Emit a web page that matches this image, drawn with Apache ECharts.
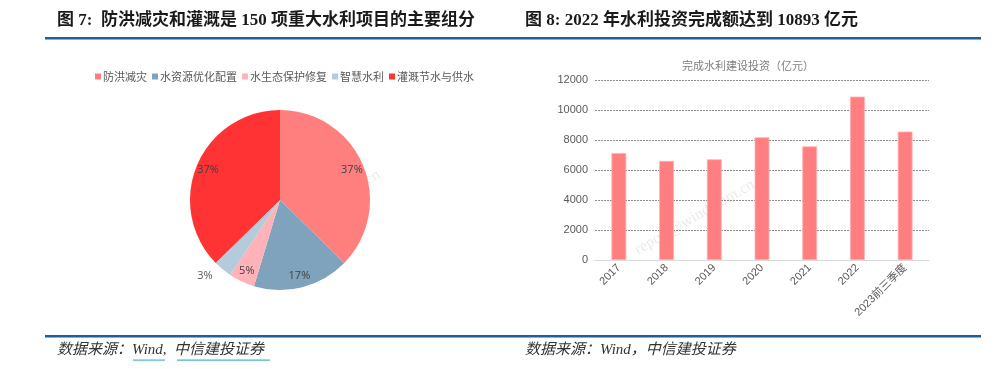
<!DOCTYPE html>
<html><head><meta charset="utf-8">
<script src="https://cdn.jsdelivr.net/npm/echarts@6/dist/echarts.min.js"></script>
<style>html,body{margin:0;padding:0;background:#fff}#c{width:1000px;height:369px}</style>
</head><body><div id="c"></div>
<script>
// Pie data (150 major water projects)
const pieNames = ['防洪减灾', '水资源优化配置', '水生态保护修复', '智慧水利', '灌溉节水与供水'];
const pieValues = [56, 26, 7, 5, 56];
const pieColors = ['#FF7F7F', '#7FA3BC', '#FFB3B8', '#B4CBDB', '#FF3333'];
// Bar data
const barCategories = ['2017', '2018', '2019', '2020', '2021', '2022', '2023前三季度'];
const barValues = [7132, 6603, 6712, 8182, 7576, 10893, 8564];
const yTicks = [0, 2000, 4000, 6000, 8000, 10000, 12000];

const serif = '"Liberation Serif","Times New Roman","Noto Sans CJK SC",serif';
const sans = 'Arial,"Liberation Sans","Noto Sans CJK SC",sans-serif';

const chart = echarts.init(document.getElementById('c'), null, {renderer: 'canvas'});
const pieData = pieNames.map((n, i) => ({name: n, value: pieValues[i], itemStyle: {color: pieColors[i]}}));
const ringData = pieNames.map((n, i) => {
  const d = {name: n, value: pieValues[i], itemStyle: {color: 'rgba(0,0,0,0)'}};
  if (n === '智慧水利') d.label = {position: 'outside', color: '#595959'};
  return d;
});

chart.setOption({
  animation: false,
  title: {
    text: '完成水利建设投资（亿元）', left: 743, top: 55, textAlign: 'center',
    textStyle: {fontSize: 11, fontWeight: 'normal', color: '#7F7F7F', fontFamily: '"Noto Sans CJK SC",sans-serif'}
  },
  legend: {
    data: pieNames, left: 90, top: 66, icon: 'rect', itemWidth: 6, itemHeight: 6, itemGap: 5,
    textStyle: {fontSize: 11, color: '#595959', fontFamily: '"Noto Sans CJK SC",sans-serif', padding: [0, 0, 0, -3]}
  },
  grid: {left: 595, top: 80, width: 334, height: 180, containLabel: false},
  xAxis: {
    type: 'category', data: barCategories,
    axisLine: {lineStyle: {color: '#D9D9D9'}}, axisTick: {show: false},
    axisLabel: {rotate: 45, fontSize: 11, color: '#595959', fontFamily: sans, margin: 6, interval: 0}
  },
  yAxis: {
    type: 'value', min: yTicks[0], max: yTicks[yTicks.length - 1], interval: 2000,
    axisLine: {show: false}, axisTick: {show: false},
    axisLabel: {fontSize: 11, color: '#595959', fontFamily: sans, margin: 7, formatter: v => String(v)},
    splitLine: {lineStyle: {color: '#8C8C8C', type: [2, 1], width: 1}}
  },
  series: [
    {
      type: 'pie', center: [280, 200], radius: [0, 90], startAngle: 90, clockwise: true,
      data: pieData, label: {show: false}, labelLine: {show: false}, silent: true,
      itemStyle: {borderWidth: 0}
    },
    {
      type: 'pie', center: [280, 200], radius: [60, 90], startAngle: 90, clockwise: true,
      data: ringData, silent: true, legendHoverLink: false,
      label: {show: true, position: 'inside', fontSize: 11, color: '#404040',
        fontFamily: '"Open Sans","DejaVu Sans",sans-serif',
        formatter: p => Math.round(p.percent) + '%'},
      labelLine: {show: false, length: 8, length2: 0},
      itemStyle: {borderWidth: 0}
    },
    {
      type: 'bar', data: barValues, barWidth: '31%',
      itemStyle: {color: '#FF7F80', borderColor: '#FFB0B0', borderWidth: 0.8}
    }
  ],
  graphic: [
    {type: 'text', left: 57, top: 12, style: {text: '图 7:  防洪减灾和灌溉是 150 项重大水利项目的主要组分', font: 'bold 17px ' + serif, fill: '#1a1a1a'}},
    {type: 'text', left: 525, top: 12, style: {text: '图 8: 2022 年水利投资完成额达到 10893 亿元', font: 'bold 17px ' + serif, fill: '#1a1a1a'}},
    {type: 'rect', shape: {x: 45, y: 37, width: 936, height: 2.5}, style: {fill: '#1F5E97'}},
    {type: 'rect', shape: {x: 45, y: 335, width: 936, height: 2.5}, style: {fill: '#1F5E97'}},
    {type: 'text', left: 57, top: 343, style: {text: '数据来源：Wind,  中信建投证券', font: 'italic 15px ' + serif, fill: '#333'}},
    {type: 'rect', shape: {x: 133, y: 359.5, width: 32, height: 1.2}, style: {fill: '#3FB8D2'}},
    {type: 'rect', shape: {x: 177, y: 359.5, width: 93, height: 1.2}, style: {fill: '#3FB8D2'}},
    {type: 'text', left: 525, top: 343, style: {text: '数据来源：Wind，中信建投证券', font: 'italic 15px ' + serif, fill: '#333'}},
    {type: 'text', x: 268, y: 252, rotation: 32 * Math.PI / 180, style: {text: 'report@wind.com.cn', font: '16px ' + serif, fill: 'rgba(0,0,0,0.09)', textVerticalAlign: 'bottom'}},
    {type: 'text', x: 640, y: 258, rotation: 30 * Math.PI / 180, style: {text: 'report@wind.com.cn', font: '16px ' + serif, fill: 'rgba(0,0,0,0.09)', textVerticalAlign: 'bottom'}}
  ]
});
</script></body></html>
